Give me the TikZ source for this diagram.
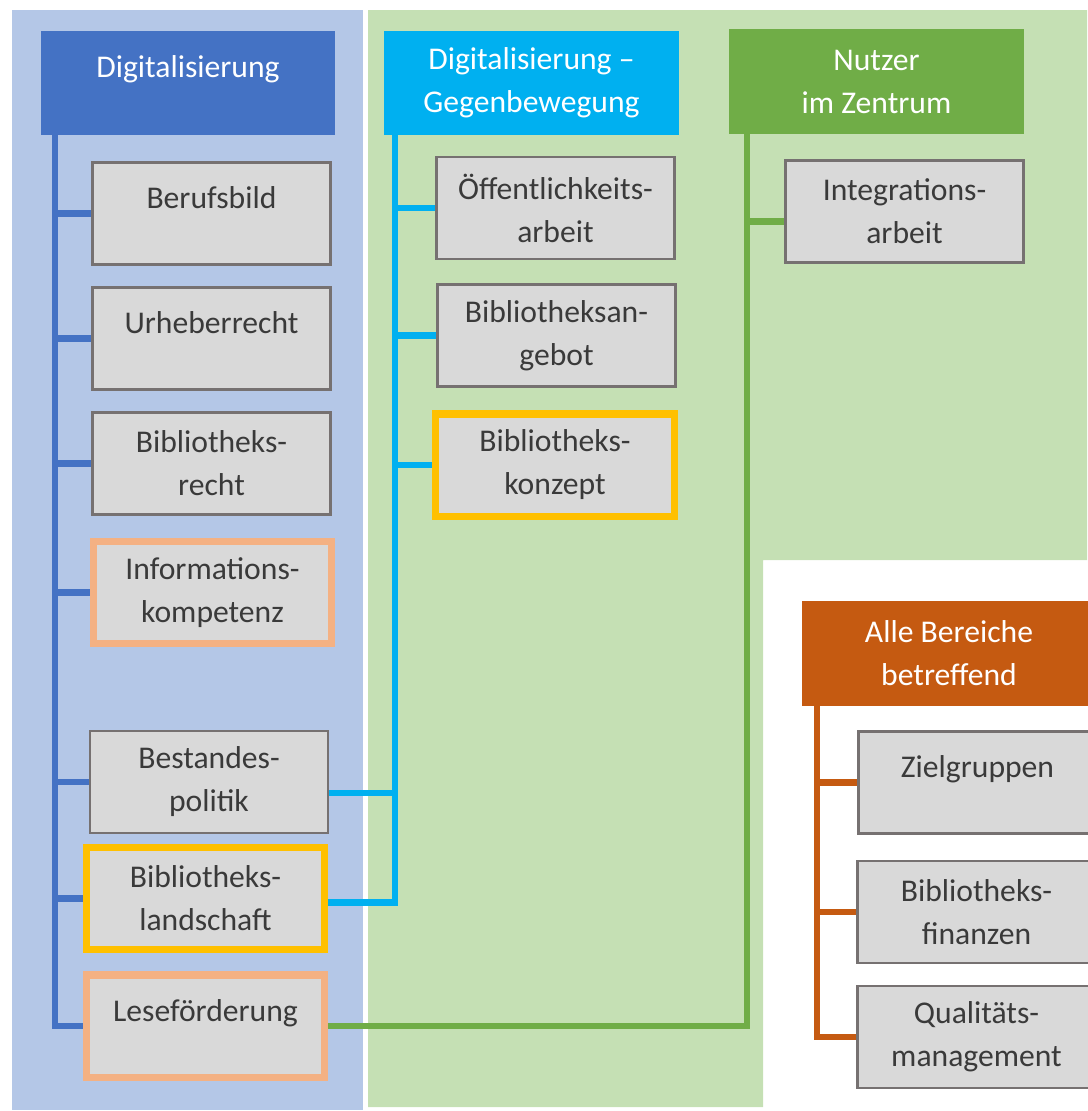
\documentclass[tikz,border=0pt]{standalone}
\usepackage{fontspec}
\setmainfont{Carlito}
\usetikzlibrary{positioning, backgrounds}

\definecolor{digblue}{HTML}{4472C4}
\definecolor{gegencyan}{HTML}{00B0F0}
\definecolor{nutzergreen}{HTML}{70AD47}
\definecolor{alleorange}{HTML}{C55A11}
\definecolor{digbg}{HTML}{B4C7E7}
\definecolor{nutzerbg}{HTML}{C5E0B4}
\definecolor{boxfill}{HTML}{D9D9D9}
\definecolor{boxline}{HTML}{767171}
\definecolor{boxtext}{HTML}{3A3A3A}
\definecolor{peach}{HTML}{F4B183}
\definecolor{gold}{HTML}{FFC000}

\begin{document}
\begin{tikzpicture}[x=0.025cm, y=-0.025cm,
    header/.style={rectangle, minimum width=7.35cm, minimum height=2.6cm, inner sep=2pt, text=white, align=center, font=\fontsize{22.5}{30.6}\selectfont},
    topic/.style={rectangle, minimum width=5.95cm, minimum height=2.55cm, inner sep=2pt, draw=boxline, line width=1.5pt, fill=boxfill, text=boxtext, align=center, font=\fontsize{22.5}{30.6}\selectfont},
    oneline/.style={text height=0.5cm, text depth=0.75cm},
    marked/.style={draw=#1, line width=5pt},
    branch/.style={line width=4.3pt, draw=#1}
]
    \useasboundingbox (0,0) rectangle (1087,1111);

    % Digitalisierung
    \node[header, oneline, fill=digblue] (dig) at (188,83) {Digitalisierung};
    \node[topic, oneline] (beruf) at (211.5,213.5) {Berufsbild};
    \node[topic, oneline] (urheber) at (211.5,338.5) {Urheberrecht};
    \node[topic] (brecht) at (211.5,463.5) {Bibliotheks-\\recht};
    \node[topic, marked=peach] (info) at (212.5,592.5) {Informations-\\kompetenz};
    \node[topic] (bestand) at (209,782) {Bestandes-\\politik};
    \node[topic, marked=gold] (landschaft) at (205.5,898.5) {Bibliotheks-\\landschaft};
    \node[topic, oneline, marked=peach] (lese) at (205.5,1026) {Leseförderung};

    % Digitalisierung - Gegenbewegung
    \node[header, fill=gegencyan] (gegen) at (531.5,83) {Digitalisierung --\\Gegenbewegung};
    \node[topic] (oeff) at (555.5,208) {Öffentlichkeits-\\arbeit};
    \node[topic] (angebot) at (556.5,335.5) {Bibliotheksan-\\gebot};
    \node[topic, marked=gold] (konzept) at (555,465) {Bibliotheks-\\konzept};

    % Nutzer im Zentrum
    \node[header, fill=nutzergreen] (nutzer) at (876.5,81.5) {Nutzer\\im Zentrum};
    \node[topic] (integ) at (904.5,211.5) {Integrations-\\arbeit};

    % Alle Bereiche betreffend
    \node[header, fill=alleorange] (alle) at (949,653.5) {Alle Bereiche\\betreffend};
    \node[topic, oneline] (ziel) at (977.5,782.5) {Zielgruppen};
    \node[topic] (finanz) at (976.5,912) {Bibliotheks-\\finanzen};
    \node[topic] (quali) at (976.5,1037) {Qualitäts-\\management};

    % Areas and connectors, behind the boxes
    \coordinate (digroot) at ([xshift=0.35cm]dig.south west);
    \coordinate (gegenroot) at ([xshift=0.275cm]gegen.south west);
    \coordinate (nutzerroot) at ([xshift=0.45cm]nutzer.south west);
    \coordinate (alleroot) at ([xshift=0.375cm]alle.south west);
    \begin{scope}[on background layer]
        \fill[digbg] (12,10) rectangle (363,1110);
        \fill[nutzerbg] (368,10) -| (1087,560) -| (763,1107) -| cycle;
        \foreach \child in {beruf, urheber, brecht, info, bestand, landschaft, lese}
            \draw[branch=digblue] (digroot) |- (\child.west);
        \foreach \child in {oeff, angebot, konzept}
            \draw[branch=gegencyan] (gegenroot) |- (\child.west);
        \draw[branch=gegencyan] (gegenroot) |- ([yshift=-0.275cm]bestand.east);
        \draw[branch=gegencyan] (gegenroot) |- ([yshift=-0.1cm]landschaft.east);
        \draw[branch=nutzergreen] (nutzerroot) |- ([yshift=-0.25cm]integ.west);
        \draw[branch=nutzergreen] (nutzerroot) |- (lese.east);
        \foreach \child in {ziel, finanz, quali}
            \draw[branch=alleorange] (alleroot) |- (\child.west);
    \end{scope}

\end{tikzpicture}
\end{document}
